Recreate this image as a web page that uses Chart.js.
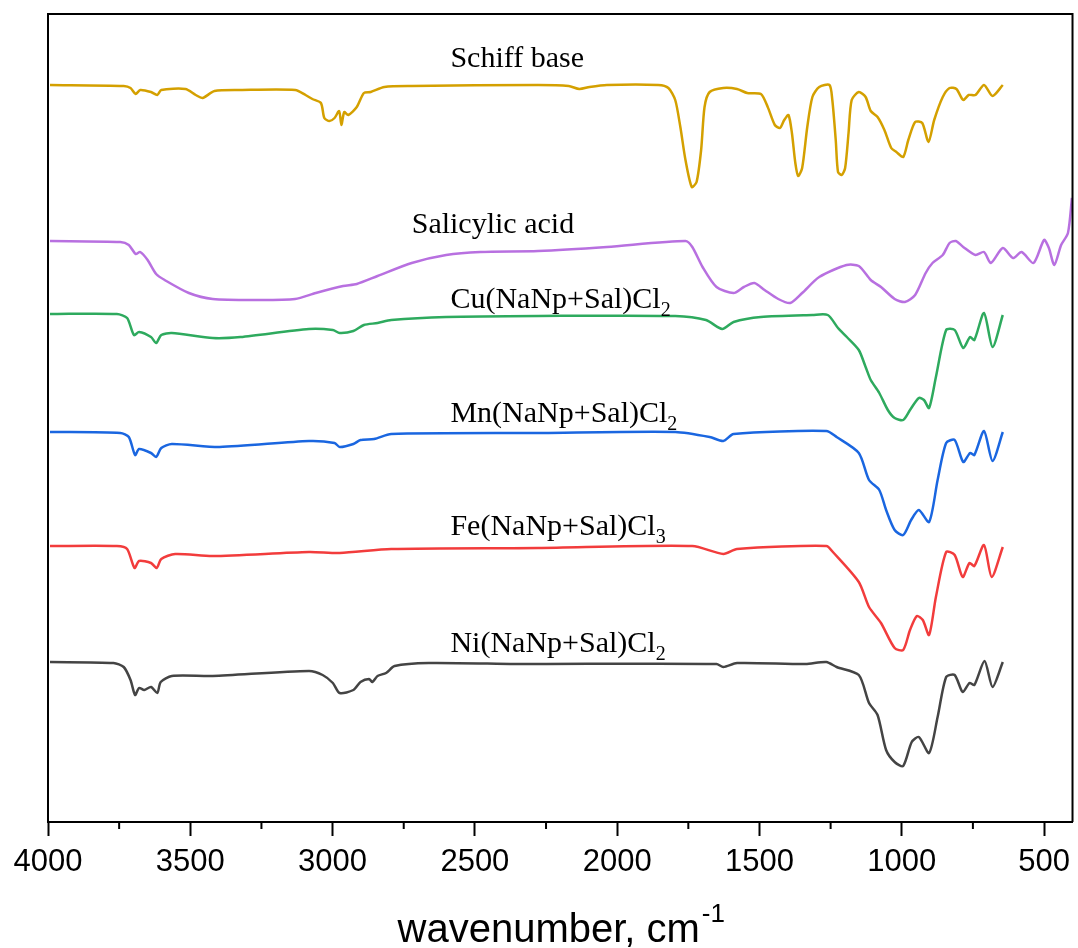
<!DOCTYPE html>
<html>
<head>
<meta charset="utf-8">
<script src="https://cdn.jsdelivr.net/npm/chart.js@4.4.1/dist/chart.umd.min.js"></script>
<style>
    body { margin: 0; background: #fff; }
    #wrap { width: 1078px; height: 948px; }
</style>
</head>
<body>
<div id="wrap"><canvas id="ftirChart"></canvas></div>
<script>
// wavenumber (cm-1) and offset transmittance (a.u.)
const schiffWn = [3993, 3734, 3710, 3692, 3676, 3638, 3616, 3602, 3517, 3481, 3457, 3415, 3324, 3131, 3095, 3071, 3041, 3029, 3011, 2993, 2977, 2969, 2959, 2945, 2915, 2890, 2866, 2818, 2722, 2278, 2170, 2133, 2097, 2036, 1856, 1820, 1796, 1778, 1760, 1738, 1721, 1705, 1693, 1675, 1627, 1579, 1543, 1495, 1471, 1446, 1428, 1413, 1398, 1386, 1374, 1364, 1350, 1332, 1314, 1290, 1254, 1244, 1232, 1224, 1211, 1199, 1187, 1176, 1151, 1127, 1109, 1085, 1061, 1037, 1019, 995, 977, 953, 928, 906, 886, 856, 832, 808, 784, 765, 741, 711, 681, 645];
const schiffT = [737, 736, 734, 728, 732, 730, 727, 732, 733, 727, 724, 731, 732, 732, 727, 723, 719, 704, 701, 704, 711, 697, 710, 707, 715, 729, 730, 735, 736, 737, 736, 733, 735, 737, 737, 734, 722, 695, 662, 635, 640, 672, 715, 730, 734, 733, 729, 728, 715, 697, 694, 702, 707, 689, 659, 646, 654, 695, 725, 735, 737, 722, 682, 650, 647, 654, 689, 722, 730, 725, 711, 705, 692, 674, 670, 665, 682, 700, 699, 680, 702, 725, 734, 733, 722, 727, 727, 737, 726, 737];

const salicylicWn = [3993, 3746, 3716, 3692, 3676, 3650, 3620, 3590, 3505, 3421, 3264, 3132, 3059, 2963, 2915, 2842, 2722, 2601, 2481, 2278, 2036, 1760, 1736, 1700, 1651, 1591, 1555, 1518, 1482, 1434, 1392, 1350, 1290, 1194, 1151, 1109, 1073, 1025, 989, 953, 916, 892, 856, 832, 810, 784, 741, 711, 687, 645, 609, 579, 537, 500, 483, 464, 440, 416, 402];
const salicylicT = [581, 580, 577, 568, 570, 562, 548, 542, 529, 523, 522, 523, 529, 536, 538, 546, 559, 567, 570, 571, 575, 581, 575, 555, 535, 529, 535, 539, 532, 523, 519, 529, 545, 557, 556, 542, 535, 523, 520, 527, 549, 559, 567, 579, 581, 575, 567, 570, 559, 574, 564, 570, 559, 582, 574, 557, 577, 589, 624];

const cuWn = [3993, 3758, 3722, 3698, 3680, 3638, 3620, 3602, 3565, 3421, 3324, 3083, 2999, 2975, 2927, 2890, 2842, 2794, 2601, 2278, 1796, 1688, 1631, 1591, 1495, 1314, 1260, 1224, 1193, 1151, 1127, 1109, 1079, 1049, 1025, 995, 971, 940, 922, 904, 880, 844, 814, 784, 760, 745, 711, 681, 645];
const cuT = [508, 508, 504, 487, 490, 485, 479, 487, 489, 484, 485, 493, 492, 489, 491, 497, 499, 502, 505, 506, 506, 502, 493, 500, 505, 507, 507, 494, 485, 472, 455, 442, 429, 412, 404, 402, 412, 424, 422, 414, 445, 492, 492, 474, 485, 482, 509, 475, 507];

const mnWn = [3993, 3746, 3716, 3694, 3680, 3638, 3620, 3602, 3565, 3397, 3083, 2993, 2975, 2927, 2902, 2854, 2794, 2278, 1796, 1675, 1627, 1591, 1265, 1229, 1151, 1115, 1079, 1055, 1025, 995, 967, 940, 904, 874, 844, 814, 784, 760, 745, 711, 681, 645];
const mnT = [390, 389, 385, 367, 373, 369, 365, 374, 378, 375, 381, 379, 375, 378, 382, 383, 388, 389, 390, 385, 381, 388, 391, 385, 369, 342, 332, 312, 292, 287, 302, 312, 300, 342, 379, 382, 360, 369, 367, 391, 361, 390];

const feWn = [3993, 3758, 3722, 3696, 3680, 3638, 3618, 3602, 3553, 3421, 3083, 2975, 2794, 2278, 1736, 1627, 1579, 1265, 1242, 1151, 1115, 1073, 1025, 995, 971, 947, 926, 904, 880, 844, 814, 786, 762, 745, 711, 684, 645];
const feT = [276, 276, 273, 254, 261, 259, 254, 263, 268, 266, 270, 269, 273, 274, 276, 268, 273, 276, 270, 240, 215, 199, 174, 172, 192, 206, 202, 187, 225, 270, 267, 245, 259, 256, 277, 245, 275];

const niWn = [3993, 3770, 3734, 3710, 3694, 3680, 3662, 3638, 3616, 3604, 3565, 3421, 3083, 3035, 2999, 2975, 2927, 2902, 2872, 2860, 2842, 2812, 2782, 2662, 2360, 2278, 1651, 1627, 1579, 1338, 1265, 1229, 1151, 1115, 1085, 1055, 1025, 995, 965, 940, 904, 874, 844, 814, 786, 762, 745, 709, 681, 645];
const niT = [160, 159, 155, 142, 127, 134, 132, 135, 129, 140, 146, 146, 151, 147, 139, 129, 132, 140, 143, 140, 146, 149, 156, 159, 158, 158, 158, 155, 159, 158, 160, 155, 147, 119, 107, 72, 60, 56, 80, 85, 69, 105, 145, 147, 130, 139, 137, 161, 135, 160];

const majorTicks = [4000, 3500, 3000, 2500, 2000, 1500, 1000, 500];
const minorTicks = [3750, 3250, 2750, 2250, 1750, 1250, 750];

// label text, subscript, anchor wavenumber, anchor value
const seriesLabels = [
    { text: 'Schiff base', sub: '', wn: 2586, y: 755 },
    { text: 'Salicylic acid', sub: '', wn: 2722, y: 589 },
    { text: 'Cu(NaNp+Sal)Cl', sub: '2', wn: 2586, y: 514 },
    { text: 'Mn(NaNp+Sal)Cl', sub: '2', wn: 2586, y: 400 },
    { text: 'Fe(NaNp+Sal)Cl', sub: '3', wn: 2586, y: 287 },
    { text: 'Ni(NaNp+Sal)Cl', sub: '2', wn: 2586, y: 170 }
];

function toPoints(wn, t) {
    return wn.map((w, i) => ({ x: w, y: t[i] }));
}

function makeSet(wn, t, color) {
    return {
        data: toPoints(wn, t),
        borderColor: color,
        borderWidth: 2.5,
        pointRadius: 0,
        tension: 0.25,
        fill: false
    };
}

const decorPlugin = {
    id: 'decor',
    afterDraw(chart) {
        const ctx = chart.ctx;
        const area = chart.chartArea;
        const xs = chart.scales.x;
        const ys = chart.scales.y;

        ctx.save();
        ctx.strokeStyle = '#000';
        ctx.lineWidth = 2;
        ctx.beginPath();
        ctx.moveTo(area.left, area.bottom);
        ctx.lineTo(area.left, area.top);
        ctx.lineTo(area.right, area.top);
        ctx.lineTo(area.right, area.bottom);
        ctx.stroke();

        // minor ticks
        ctx.beginPath();
        minorTicks.forEach(v => {
            const px = xs.getPixelForValue(v);
            ctx.moveTo(px, area.bottom);
            ctx.lineTo(px, area.bottom + 7);
        });
        ctx.stroke();

        // curve labels
        ctx.fillStyle = '#000';
        ctx.textBaseline = 'alphabetic';
        ctx.textAlign = 'left';
        seriesLabels.forEach(l => {
            const px = xs.getPixelForValue(l.wn);
            const py = ys.getPixelForValue(l.y);
            ctx.font = '30px "Liberation Serif", "Times New Roman", serif';
            ctx.fillText(l.text, px, py);
            if (l.sub) {
                const w = ctx.measureText(l.text).width;
                ctx.font = '20px "Liberation Serif", "Times New Roman", serif';
                ctx.fillText(l.sub, px + w, py + 8);
            }
        });

        // axis title with superscript
        const main = 'wavenumber, cm';
        const sup = '-1';
        ctx.font = '40px "Liberation Sans", Arial, sans-serif';
        const mw = ctx.measureText(main).width;
        ctx.font = '26px "Liberation Sans", Arial, sans-serif';
        const sw = ctx.measureText(sup).width;
        const startX = (area.left + area.right) / 2 - (mw + sw) / 2;
        const baseY = 942;
        ctx.font = '40px "Liberation Sans", Arial, sans-serif';
        ctx.fillText(main, startX, baseY);
        ctx.font = '26px "Liberation Sans", Arial, sans-serif';
        ctx.fillText(sup, startX + mw + 2, baseY - 20);
        ctx.restore();
    }
};

new Chart(document.getElementById('ftirChart'), {
    type: 'line',
    data: {
        datasets: [
            makeSet(schiffWn, schiffT, '#D4A000'),
            makeSet(salicylicWn, salicylicT, '#B870E0'),
            makeSet(cuWn, cuT, '#2EAA5E'),
            makeSet(mnWn, mnT, '#1A66E0'),
            makeSet(feWn, feT, '#F23C3C'),
            makeSet(niWn, niT, '#444444')
        ]
    },
    options: {
        responsive: true,
        maintainAspectRatio: false,
        animation: false,
        layout: { padding: { left: 48, top: 14, right: 3, bottom: 0 } },
        plugins: {
            legend: { display: false },
            tooltip: { enabled: false }
        },
        scales: {
            x: {
                type: 'linear',
                reverse: true,
                min: 400,
                max: 4000,
                afterBuildTicks: scale => {
                    scale.ticks = majorTicks.map(v => ({ value: v }));
                },
                afterFit: scale => {
                    scale.height = 126;
                },
                grid: {
                    drawOnChartArea: false,
                    drawTicks: true,
                    tickLength: 14,
                    tickWidth: 2,
                    tickColor: '#000'
                },
                border: { display: true, color: '#000', width: 2 },
                ticks: {
                    color: '#000',
                    padding: 8,
                    maxRotation: 0,
                    autoSkip: false,
                    callback: v => String(v),
                    font: { family: '"Liberation Sans", Arial, sans-serif', size: 31 }
                }
            },
            y: {
                display: false,
                min: 0,
                max: 808
            }
        }
    },
    plugins: [decorPlugin]
});
</script>
</body>
</html>
